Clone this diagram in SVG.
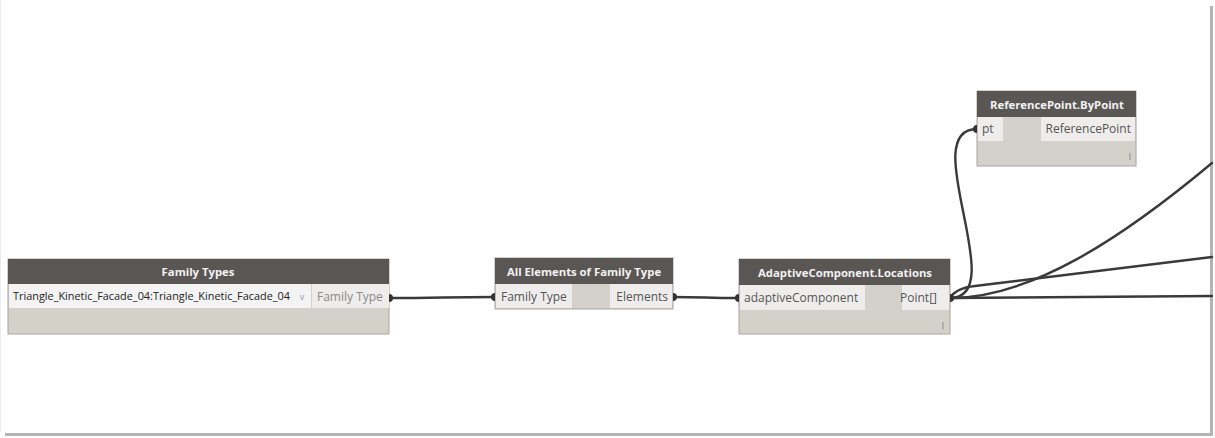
<svg xmlns="http://www.w3.org/2000/svg" width="1215" height="438" viewBox="0 0 1215 438">
<defs>
<style>
.bg{fill:#ffffff}
.frame{fill:#b4b4b4}
.body{fill:#d4d1cb;stroke:#a8a6a2;stroke-width:1}
.hdr{fill:#5a5653}
.port{fill:#eeedeb}
.drop{fill:#f3f3f3}
.ht{font-family:"Open Sans","Liberation Sans",sans-serif;font-size:11.3px;font-weight:bold;fill:#f2f2f2;text-anchor:middle}
.pt{font-family:"Open Sans","Liberation Sans",sans-serif;font-size:12px;fill:#555}
.pr{text-anchor:end}
.dim{fill:#8a8a8a}
.val{font-family:"Open Sans","Liberation Sans",sans-serif;font-size:11px;fill:#222}
.lace{font-family:"Open Sans","Liberation Sans",sans-serif;font-size:9px;fill:#777;text-anchor:end}
.wire{fill:none;stroke:#3a3a3a;stroke-width:2.4;stroke-linecap:round}
.nub{fill:#333}
</style>
</defs>
<rect class="bg" x="0" y="0" width="1215" height="438"/>
<rect class="frame" x="1210" y="6" width="3" height="430"/>
<rect class="frame" x="5" y="433" width="1208" height="3"/>
<rect x="0" y="0" width="1" height="432" fill="#ececec"/>

<g id="connectors">
<path class="wire" d="M389,298 C440,298 445,297 495,297"/>
<path class="wire" d="M672,297 C705,297 706,298 739,298" stroke-width="3"/>
<path class="wire" d="M950,298 C1012,298 915,129 977,129"/>
<path class="wire" d="M950,298 C1030,298 1120,240 1212,163"/>
<path class="wire" d="M950,298 Q956,288 975,286 L1212,257"/>
<path class="wire" d="M950,298 L1212,296"/>
</g>

<g id="node-family-types">
<rect class="body" x="8" y="259" width="381" height="75"/>
<rect class="hdr" x="8" y="259" width="381" height="25"/>
<text class="ht" x="198" y="276">Family Types</text>
<rect class="drop" x="9" y="284" width="302" height="24"/>
<rect class="port" x="312" y="284" width="77" height="24"/>
<text class="val" x="13" y="300" textLength="277" lengthAdjust="spacingAndGlyphs">Triangle_Kinetic_Facade_04:Triangle_Kinetic_Facade_04</text>
<text class="val" x="302" y="300" style="fill:#999;font-size:9px" text-anchor="middle">v</text>
<text class="pt dim" x="317" y="301">Family Type</text>
<path class="nub" d="M389,294 a4,4 0 0 1 0,8 z"/>
</g>

<g id="node-all-elements">
<rect class="body" x="495" y="258" width="178" height="51"/>
<rect class="hdr" x="495" y="258" width="178" height="26"/>
<text class="ht" x="584" y="276">All Elements of Family Type</text>
<rect class="port" x="496" y="284" width="76" height="24"/>
<rect class="port" x="610" y="284" width="62" height="24"/>
<text class="pt" x="501" y="301">Family Type</text>
<text class="pt pr" x="668" y="301">Elements</text>
<path class="nub" d="M495,293 a4,4 0 0 0 0,8 z"/>
<path class="nub" d="M673,293 a4,4 0 0 1 0,8 z"/>
</g>

<g id="node-adaptive-locations">
<rect class="body" x="739" y="259" width="211" height="75"/>
<rect class="hdr" x="739" y="259" width="211" height="26"/>
<text class="ht" x="845" y="277">AdaptiveComponent.Locations</text>
<rect class="port" x="740" y="285" width="125" height="25"/>
<rect class="port" x="902" y="285" width="47" height="25"/>
<text class="pt" x="744" y="302">adaptiveComponent</text>
<text class="pt pr" x="937" y="302">Point[]</text>
<text class="lace" x="944" y="329">l</text>
<path class="nub" d="M739,294 a4,4 0 0 0 0,8 z"/>
<path class="nub" d="M950,294 a4,4 0 0 1 0,8 z"/>
</g>

<g id="node-referencepoint-bypoint">
<rect class="body" x="977" y="91" width="159" height="75"/>
<rect class="hdr" x="977" y="91" width="159" height="26"/>
<text class="ht" x="1057" y="109">ReferencePoint.ByPoint</text>
<rect class="port" x="978" y="117" width="25" height="24"/>
<rect class="port" x="1041" y="117" width="94" height="24"/>
<text class="pt" x="982" y="133">pt</text>
<text class="pt pr" x="1131" y="133">ReferencePoint</text>
<text class="lace" x="1131" y="160">l</text>
<path class="nub" d="M977,125 a4,4 0 0 0 0,8 z"/>
</g>
</svg>
